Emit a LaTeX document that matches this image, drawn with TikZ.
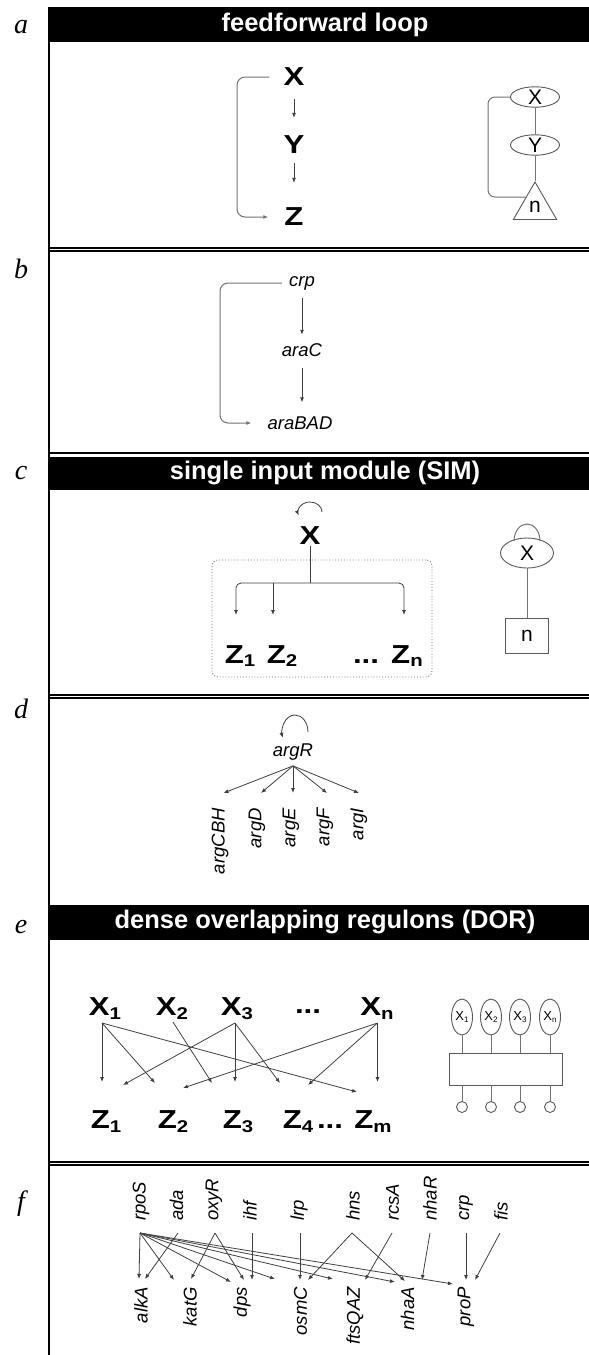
\documentclass[tikz,border=0pt]{standalone}
\usepackage{fontspec}
\setmainfont{Liberation Sans}
\newfontfamily\lettfont{Liberation Serif}
\usetikzlibrary{shapes.geometric,arrows.meta}
\newcommand\sbs[2][3pt]{\raisebox{-#1}{\fontsize{17}{17}\selectfont #2}}
\newcommand\ssb[1]{\raisebox{-2pt}{\fontsize{8}{8}\selectfont #1}}
\newcommand\BL[1]{\scalebox{1.2}[1]{#1}}
\begin{document}
\begin{tikzpicture}[x=1pt,y=-1pt,
  bord/.style={line width=1.1pt},
  hdrtext/.style={text=white,font=\bfseries\fontsize{25.5}{26}\selectfont,inner sep=0pt},
  lett/.style={font=\lettfont\itshape\fontsize{28}{28}\selectfont,inner sep=0pt,anchor=base},
  big/.style={font=\bfseries\fontsize{26}{26}\selectfont,inner sep=1pt},
  gene/.style={font=\itshape\fontsize{18.5}{18.5}\selectfont,inner sep=1pt},
  ln/.style={draw=black!75,line width=0.8pt},
  arr/.style={ln,-{Latex[length=5pt,width=4pt]}},
  gl/.style={draw=black!55,line width=1pt},
  garr/.style={gl,-{Latex[length=5pt,width=4pt]}},
  sym/.style={draw=black!65,line width=0.9pt,inner sep=0pt},
  ell/.style={sym,ellipse,font=\fontsize{21}{21}\selectfont},
]
\useasboundingbox (0,0) rectangle (589,1355);
\fill[white] (0,0) rectangle (589,1355);

% ---------- frame ----------
\fill (49,7) rectangle (600,42);
\fill (49,457) rectangle (600,490);
\fill (49,905) rectangle (600,940);
\draw[bord] (49,248) -- (600,248);
\draw[bord] (49,251) -- (600,251);
\draw[bord] (49,453) -- (600,453);
\draw[bord] (49,695) -- (600,695);
\draw[bord] (49,698) -- (600,698);
\draw[bord] (49,1162) -- (600,1162);
\draw[bord] (49,1165) -- (600,1165);
\draw[line width=2.5pt] (49,7) -- (49,1360);

\node[hdrtext] (ha) at (325,25) {feedforward loop};
\node[hdrtext] (hc) at (325,473) {single input module (SIM)};
\node[hdrtext] (he) at (325,922) {dense overlapping regulons (DOR)};

\node[lett] (la) at (21,33) {a};
\node[lett] (lb) at (21,278) {b};
\node[lett] (lc) at (21,479) {c};
\node[lett] (ld) at (21,718) {d};
\node[lett] (le) at (21,933) {e};
\node[lett] (lf) at (21,1210) {f};

% ---------- panel a ----------
\node[big] (aX) at (294,77) {\BL{X}};
\node[big] (aY) at (294,145) {\BL{Y}};
\node[big] (aZ) at (294,217) {\BL{Z}};
\draw[arr,shorten <=12pt,shorten >=17pt] (aX) -- (aY);
\draw[arr,shorten <=8pt,shorten >=24pt] (aY) -- (aZ);
\draw[garr,rounded corners=8pt] ([xshift=-13pt]aX.west) -- (237,77) -- (237,217) -- ([xshift=-15pt]aZ.west);

\node[ell,minimum width=49pt,minimum height=20pt] (sX) at (535,97) {X};
\node[ell,minimum width=49pt,minimum height=20pt] (sY) at (535,145) {Y};
\node[sym,regular polygon,regular polygon sides=3,minimum size=50pt,font=\fontsize{21}{21}\selectfont] (sN) at (535,207) {n};
\draw[gl] (sX) -- (sY);
\draw[gl] (sY) -- (sN.corner 1);
\coordinate (sNl) at (526.3,197);
\draw[gl,rounded corners=7pt] (sX.west) -- (488,97) -- (488,197) -- (sNl);

% ---------- panel b ----------
\node[gene] (crp) at (302,283) {crp};
\node[gene] (araC) at (302,350) {araC};
\node[gene] (araBAD) at (300,423) {araBAD};
\draw[arr,shorten <=7pt,shorten >=7.5pt] (crp) -- (araC);
\draw[arr,shorten <=10pt,shorten >=13pt] (araC) -- (araC |- araBAD.north);
\draw[garr,rounded corners=8pt] ([xshift=-6pt]crp.west) -- (220,283) -- (220,423) -- ([xshift=-15pt]araBAD.west);

% ---------- panel c ----------
\node[big] (cX) at (310,536) {\BL{X}};
\draw[arr] ([shift={(12,-24)}]cX.center) arc[start angle=0,end angle=200,x radius=12pt,y radius=10pt];
\node[draw=black!55,dotted,line width=0.9pt,rounded corners=6pt,minimum width=220pt,minimum height=117pt,inner sep=0pt] (cbox) at (322,618.5) {};
\coordinate (cJ) at (310,583);
\coordinate (cE1) at (236,615);
\coordinate (cE2) at (273,615);
\coordinate (cE3) at (404,615);
\draw[ln] (cX.south) -- (cJ);
\draw[arr,rounded corners=5pt] (cJ) -| (cE1);
\draw[arr] (cE2 |- cJ) -- (cE2);
\draw[arr,rounded corners=5pt] (cJ) -| (cE3);
\node[big,anchor=base] (cZ1) at (240,663) {\BL{Z\sbs{1}}};
\node[big,anchor=base] (cZ2) at (282,663) {\BL{Z\sbs{2}}};
\node[big,anchor=base] (cdots) at (366,663) {\BL{...}};
\node[big,anchor=base] (cZn) at (407,663) {\BL{Z\sbs{n}}};

\node[ell,minimum width=53pt,minimum height=30pt] (cSX) at (527,553) {X};
\draw[gl] ([shift={(-13,-12)}]cSX.center) arc[start angle=180,end angle=0,x radius=13pt,y radius=17pt];
\node[sym,minimum width=43pt,minimum height=35pt,font=\fontsize{21}{21}\selectfont] (cSn) at (527,636) {n};
\draw[gl] (cSX) -- (cSn);

% ---------- panel d ----------
\node[gene] (argR) at (293,752) {argR};
\draw[arr] ([shift={(15,-20)}]argR.center) arc[start angle=0,end angle=200,x radius=13pt,y radius=17pt];
\path (argR.south) ++(0,4.4) coordinate (dS);
\node[gene,rotate=90,anchor=east] (argCBH) at (220,807) {argCBH};
\node[gene,rotate=90,anchor=east] (argD) at (257,807) {argD};
\node[gene,rotate=90,anchor=east] (argE) at (291,807) {argE};
\node[gene,rotate=90,anchor=east] (argF) at (325,807) {argF};
\node[gene,rotate=90,anchor=east] (argI) at (359,807) {argI};
\coordinate (dT1) at (223.5,793);
\coordinate (dT2) at (261,793);
\coordinate (dT3) at (293,793);
\coordinate (dT4) at (327,793);
\coordinate (dT5) at (359,793);
\foreach \t in {dT1,dT2,dT3,dT4,dT5} \draw[arr] (dS) -- (\t);

% ---------- panel e ----------
\node[big,anchor=base] (eX1) at (105,1015) {\BL{X\sbs[4pt]{1}}};
\node[big,anchor=base] (eX2) at (172,1015) {\BL{X\sbs[4pt]{2}}};
\node[big,anchor=base] (eX3) at (237,1015) {\BL{X\sbs[4pt]{3}}};
\node[big,anchor=base] (edx) at (308,1013) {\BL{...}};
\node[big,anchor=base] (eXn) at (377,1015) {\BL{X\sbs[4pt]{n}}};
\node[big,anchor=base] (eZ1) at (106,1128) {\BL{Z\sbs[4pt]{1}}};
\node[big,anchor=base] (eZ2) at (173,1128) {\BL{Z\sbs[4pt]{2}}};
\node[big,anchor=base] (eZ3) at (238,1128) {\BL{Z\sbs[4pt]{3}}};
\node[big,anchor=base] (eZ4) at (298,1128) {\BL{Z\sbs[4pt]{4}}};
\node[big,anchor=base] (edz) at (330,1128) {\BL{...}};
\node[big,anchor=base] (eZm) at (373,1128) {\BL{Z\sbs[4pt]{m}}};
\path ([shift={(-3,8)}]eX1.base) coordinate (es1);
\path ([shift={(1,7)}]eX2.base) coordinate (es2);
\path ([shift={(-2,8)}]eX3.base) coordinate (es3);
\path ([shift={(0.5,8)}]eXn.base) coordinate (esn);
\coordinate (eT1) at (102,1082);
\coordinate (eT2) at (155,1083);
\coordinate (eT3) at (357,1092);
\coordinate (eT4) at (212,1083);
\coordinate (eT5) at (123,1085);
\coordinate (eT6) at (235,1082);
\coordinate (eT7) at (280,1083);
\coordinate (eT8) at (183,1088);
\coordinate (eT9) at (308,1085);
\coordinate (eT10) at (377.5,1082);
\draw[arr] (es1) -- (eT1);
\draw[arr] (es1) -- (eT2);
\draw[arr] (es1) -- (eT3);
\draw[arr] (es2) -- (eT4);
\draw[arr] (es3) -- (eT5);
\draw[arr] (es3) -- (eT6);
\draw[arr] (es3) -- (eT7);
\draw[arr] (esn) -- (eT8);
\draw[arr] (esn) -- (eT9);
\draw[arr] (esn) -- (eT10);

\node[sym,rectangle,minimum width=113pt,minimum height=32pt] (eR) at (505.5,1069) {};
\foreach \i/\x/\s in {1/462/1,2/491/2,3/520/3,4/550/n}{
  \node[sym,ellipse,minimum width=21pt,minimum height=36pt,font=\fontsize{13}{13}\selectfont] (eE\i) at (\x,1017) {X\ssb{\s}};
  \node[sym,circle,minimum size=11pt] (eC\i) at (\x,1107) {};
  \draw[gl] (eE\i) -- (eE\i |- eR.north);
  \draw[gl] (eE\i |- eR.south) -- (eC\i);
}

% ---------- panel f ----------
\foreach \n/\x in {rpoS/141,ada/176.5,oxyR/214,ihf/250,lrp/299,hns/353,rcsA/392.5,nhaR/430,crp/466,fis/501}
  \node[gene,rotate=90,anchor=west] (t\n) at (\x,1222) {\n};
\foreach \n/\x in {alkA/141,katG/190,dps/242,osmC/300.5,ftsQAZ/355,nhaA/407.5,proP/466}
  \node[gene,rotate=90,anchor=east] (b\n) at (\x,1286) {\n};
\foreach \n/\dx in {rpoS/-1,ada/1.5,oxyR/1,ihf/2,lrp/1,hns/-1,rcsA/-0.5,nhaR/0,crp/0,fis/-1}
  \path ([shift={(\dx,11)}]t\n.west) coordinate (fs\n);
\foreach \s/\x/\y in {rpoS/139/1279,rpoS/174/1280,rpoS/231/1282,rpoS/275/1279,rpoS/333/1279,rpoS/395/1282,rpoS/453/1284,
  ada/145/1279,oxyR/191/1279,oxyR/244/1280,ihf/252/1280,lrp/300/1280,hns/308/1280,hns/405/1281,
  rcsA/365/1280,nhaR/422/1280,crp/466/1280,fis/475/1280}
  \draw[arr] (fs\s) -- (\x,\y);
\end{tikzpicture}
\end{document}
